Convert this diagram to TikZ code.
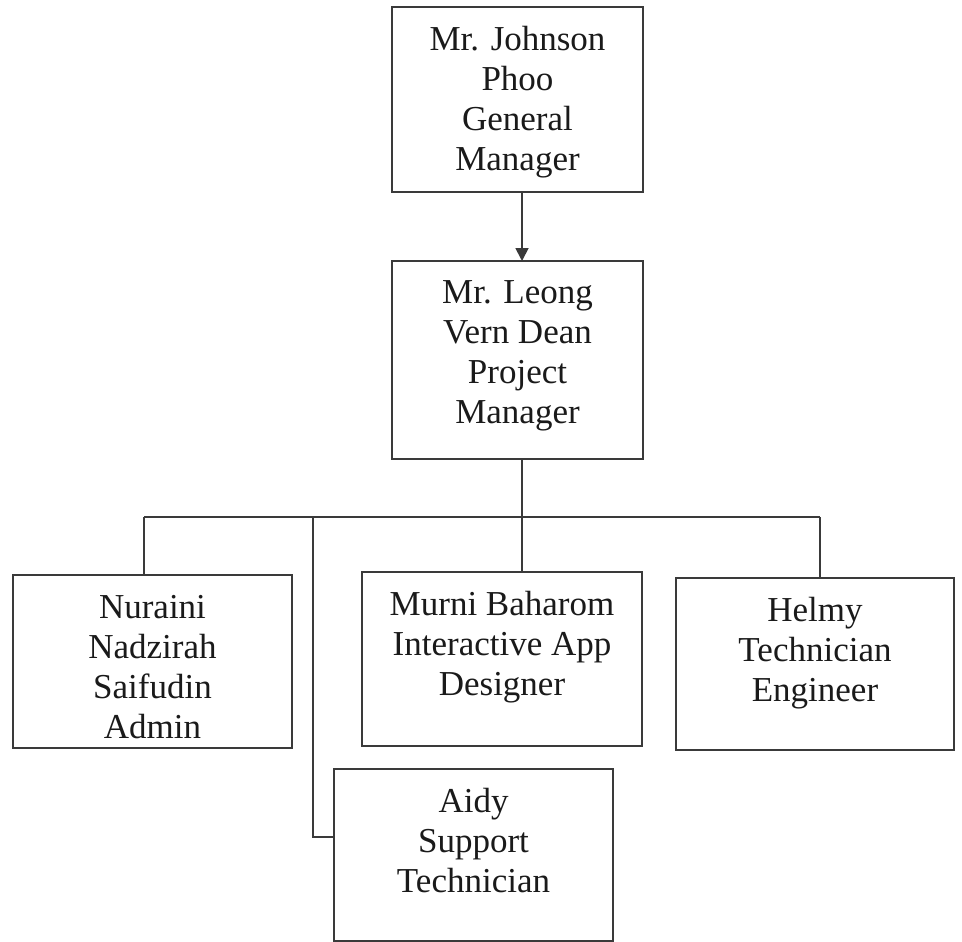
\documentclass[tikz,border=0pt]{standalone}
\usepackage{fontspec}
\setmainfont{Liberation Serif}
\usetikzlibrary{arrows.meta}
\definecolor{inkline}{HTML}{3A3A3A}
\definecolor{inktext}{HTML}{1A1A1A}
\begin{document}
\begin{tikzpicture}[x=1pt,y=-1pt,
  orgbox/.style={draw=inkline, line width=2pt, fill=white, rectangle,
    inner sep=0pt, outer sep=0pt, anchor=north west},
  orgtext/.style={anchor=north, inner sep=0pt, align=center, text=inktext,
    font=\fontsize{35}{40}\selectfont},
  link/.style={draw=inkline, line width=1.8pt},
  tip/.style={-{Triangle[length=13pt,width=13pt]}}]
\useasboundingbox (0,0) rectangle (962,942);

% boxes (top-left corner, size)
\node[orgbox, minimum width=251pt, minimum height=185pt] (gmbox) at (392,7) {};
\node[orgbox, minimum width=251pt, minimum height=198pt] (pmbox) at (392,261) {};
\node[orgbox, minimum width=279pt, minimum height=173pt] (nurbox) at (13,575) {};
\node[orgbox, minimum width=280pt, minimum height=174pt] (murnibox) at (362,572) {};
\node[orgbox, minimum width=278pt, minimum height=172pt] (helmybox) at (676,578) {};
\node[orgbox, minimum width=279pt, minimum height=172pt] (aidybox) at (334,769) {};

% texts, first baseline 43pt below each box top
\node[orgtext] (gm) at ([yshift=-15pt]gmbox.north) {\strut Mr. Johnson\\Phoo\\General\\Manager};
\node[orgtext] (pm) at ([yshift=-14pt]pmbox.north) {\strut Mr. Leong\\Vern Dean\\Project\\Manager};
\node[orgtext] (nur) at ([yshift=-15pt]nurbox.north) {\strut Nuraini\\Nadzirah\\Saifudin\\Admin};
\node[orgtext] (murni) at ([yshift=-15pt]murnibox.north) {\strut Murni Baharom\\Interactive App\\Designer};
\node[orgtext] (helmy) at ([yshift=-15pt]helmybox.north) {\strut Helmy\\Technician\\Engineer};
\node[orgtext] (aidy) at ([yshift=-15pt]aidybox.north) {\strut Aidy\\Support\\Technician};

% bus line and its junctions
\coordinate (busL) at (144,517);
\coordinate (busM) at (522,517);
\coordinate (busR) at (820,517);
\coordinate (aidyBus) at (313,517);

% connectors
\draw[link,tip,fill=inkline] ([xshift=4.5pt]gmbox.south) -- ([xshift=4.5pt]pmbox.north);
\draw[link] ([xshift=4.5pt]pmbox.south) -- (busM);
\draw[link] (busL) -- (busR);
\draw[link] (busL) -- (busL |- nurbox.north);
\draw[link] (busM) -- (busM |- murnibox.north);
\draw[link] (busR) -- (busR |- helmybox.north);
\draw[link] (aidyBus) |- ([yshift=-68pt]aidybox.north west);
\end{tikzpicture}
\end{document}
